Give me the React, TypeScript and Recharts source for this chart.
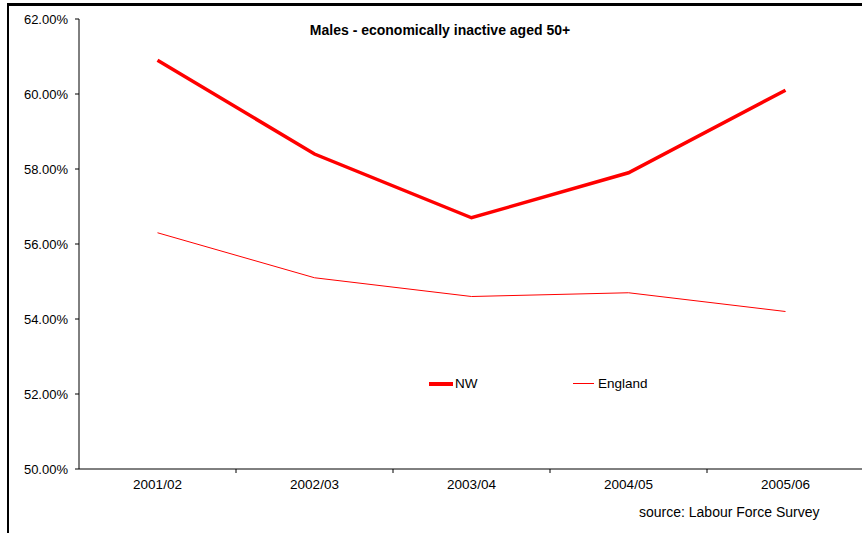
import React from "react";
import { Line, LineChart, XAxis, YAxis } from "recharts";

const YEARS = ["2001/02", "2002/03", "2003/04", "2004/05", "2005/06"];
const NW = [60.9, 58.4, 56.7, 57.9, 60.1];
const ENGLAND = [56.3, 55.1, 54.6, 54.7, 54.2];
const Y_TICKS = [50, 52, 54, 56, 58, 60, 62];

const data = YEARS.map((year, i) => ({ year, NW: NW[i], England: ENGLAND[i] }));

const FONT = "'Liberation Sans', Arial, sans-serif";
const HALF_BAND = 78.5;

// category label plus a tick mark on the right-hand band boundary
function YearTick({ x, y, payload, index }: any) {
  return (
    <g>
      {index < YEARS.length - 1 && (
        <line x1={x + HALF_BAND} x2={x + HALF_BAND} y1={y - 8} y2={y - 4} stroke="#000" />
      )}
      <text x={x} y={y + 12} textAnchor="middle" fontSize={13.5} fill="#000" fontFamily={FONT}>
        {payload.value}
      </text>
    </g>
  );
}

function LegendBox() {
  return (
    <div style={{ display: "flex", fontFamily: FONT, fontSize: 13.5, color: "#000" }}>
      <div style={{ display: "flex", alignItems: "center", width: 144 }}>
        <div style={{ width: 24, height: 4, background: "#ff0000" }} />
        <span style={{ marginLeft: 2 }}>NW</span>
      </div>
      <div style={{ display: "flex", alignItems: "center" }}>
        <div style={{ width: 21, height: 1, background: "#ff0000" }} />
        <span style={{ marginLeft: 4 }}>England</span>
      </div>
    </div>
  );
}

export default function App() {
  return (
    <div
      style={{
        position: "absolute",
        left: 0,
        top: 0,
        width: 862,
        height: 533,
        overflow: "hidden",
        background: "#fff",
      }}
    >
      <div
        style={{
          position: "absolute",
          left: 7,
          top: 3,
          width: 900,
          height: 600,
          borderLeft: "2px solid #000",
          borderTop: "3px solid #000",
        }}
      />
      <div
        style={{
          position: "absolute",
          left: 0,
          top: 22,
          width: 880,
          textAlign: "center",
          fontFamily: FONT,
          fontWeight: "bold",
          fontSize: 14,
        }}
      >
        Males - economically inactive aged 50+
      </div>
      <LineChart width={864} height={533} data={data} margin={{ top: 19, right: 0, bottom: 34, left: 0 }}>
        <XAxis
          dataKey="year"
          scale="band"
          height={30}
          stroke="#000"
          tickLine={false}
          tick={<YearTick />}
          interval={0}
        />
        <YAxis
          width={79}
          domain={[50, 62]}
          ticks={Y_TICKS}
          interval={0}
          stroke="#000"
          tickSize={4}
          tickMargin={7}
          tickFormatter={(v: number) => `${v.toFixed(2)}%`}
          tick={{ fill: "#000", fontSize: 13, fontFamily: FONT }}
        />
        <Line
          dataKey="NW"
          stroke="#ff0000"
          strokeWidth={3.5}
          dot={false}
          isAnimationActive={false}
        />
        <Line
          dataKey="England"
          stroke="#ff0000"
          strokeWidth={1}
          dot={false}
          isAnimationActive={false}
        />
      </LineChart>
      <div style={{ position: "absolute", left: 429, top: 376, width: 300 }}>
        <LegendBox />
      </div>
      <div
        style={{
          position: "absolute",
          left: 639,
          top: 504,
          fontFamily: FONT,
          fontSize: 14,
          color: "#000",
        }}
      >
        source: Labour Force Survey
      </div>
    </div>
  );
}
